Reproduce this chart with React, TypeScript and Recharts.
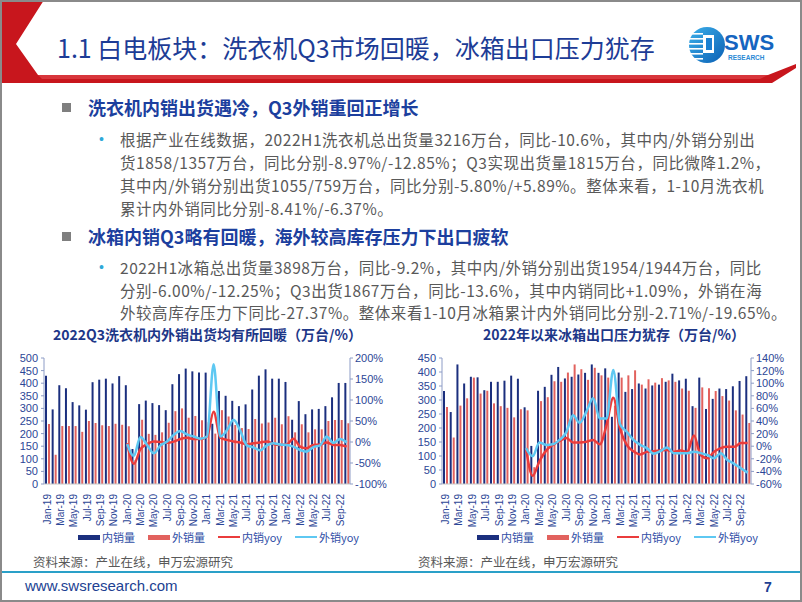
import React from "react";
import { ComposedChart, Bar, Line, XAxis, YAxis } from "recharts";

const months = [
  "Jan-19", "Feb-19", "Mar-19", "Apr-19", "May-19", "Jun-19", "Jul-19", "Aug-19", "Sep-19", "Oct-19", "Nov-19", "Dec-19",
  "Jan-20", "Feb-20", "Mar-20", "Apr-20", "May-20", "Jun-20", "Jul-20", "Aug-20", "Sep-20", "Oct-20", "Nov-20", "Dec-20",
  "Jan-21", "Feb-21", "Mar-21", "Apr-21", "May-21", "Jun-21", "Jul-21", "Aug-21", "Sep-21", "Oct-21", "Nov-21", "Dec-21",
  "Jan-22", "Feb-22", "Mar-22", "Apr-22", "May-22", "Jun-22", "Jul-22", "Aug-22", "Sep-22", "Oct-22",
];

// 洗衣机 (万台)
const washerDomestic = [
  430, 296, 392, 380, 325, 312, 295, 404, 414, 418, 399, 428,
  392, 139, 317, 331, 321, 313, 293, 396, 436, 458, 447, 442,
  442, 239, 369, 350, 330, 309, 316, 375, 430, 455, 418, 418,
  405, 255, 329, 277, 296, 298, 309, 344, 401, 401,
];
const washerExport = [
  238, 116, 230, 230, 230, 207, 250, 242, 233, 230, 239, 235,
  229, 95, 255, 199, 195, 205, 243, 289, 300, 263, 270, 253,
  245, 200, 293, 268, 234, 222, 218, 258, 240, 244, 263, 237,
  269, 205, 237, 205, 217, 217, 250, 254, 254, 241,
];
// yoy (%), from Jan-20
const washerDomesticYoy = [
  -3, -52, -17, -5, 1, 0, -2, 1, 7, 10, 7, 7,
  13, 72, 10, 5, 1, -1, -6, -3, -1, 1, -5, -7,
  -6, 8, -11, -15, -7, -6, -1, -7, -7, -11,
];
const washerExportYoy = [
  -5, -33, 12, -7, -27, -8, 1, 17, 26, 18, 13, 8,
  13, 185, 13, 28, 53, 27, -8, -13, -20, -8, -3, -6,
  -7, -11, -19, -23, -12, -8, 13, -2, 7, -1,
];

// 冰箱 (万台)
const fridgeDomestic = [
  332, 257, 427, 359, 383, 381, 335, 365, 365, 369, 387, 376,
  274, 136, 333, 347, 390, 418, 377, 383, 391, 397, 427, 397,
  413, 240, 398, 329, 339, 359, 341, 352, 355, 365, 394, 370,
  376, 278, 380, 268, 304, 341, 339, 349, 368, 385,
];
const fridgeExport = [
  275, 166, 280, 306, 380, 323, 333, 288, 278, 272, 238, 267,
  263, 60, 296, 310, 367, 365, 398, 427, 410, 372, 415, 388,
  380, 280, 380, 388, 406, 355, 374, 362, 378, 370, 365, 341,
  333, 272, 345, 342, 332, 314, 298, 263, 248, 218,
];
const fridgeDomesticYoy = [
  -3, -47, -24, -7, 2, 8, 13, 6, 6, 7, 10, 3,
  34, 77, 28, 2, -8, -13, -9, -8, -7, -6, -9, -7,
  -9, 17, -14, -19, -9, -3, -1, -1, 5, 5,
];
const fridgeExportYoy = [
  -3, -16, 6, 2, 3, 10, 22, 49, 37, 55, 76, 44,
  44, 121, 35, 23, 10, 2, -3, -12, -8, -2, -11, -11,
  -11, -9, -11, -14, -19, -11, -22, -28, -35, -42,
];

const washerLeftTicks = [0, 50, 100, 150, 200, 250, 300, 350, 400, 450, 500];
const washerRightTicks = [-100, -50, 0, 50, 100, 150, 200];
const fridgeLeftTicks = [0, 50, 100, 150, 200, 250, 300, 350, 400, 450];
const fridgeRightTicks = [-60, -40, -20, 0, 20, 40, 60, 80, 100, 120, 140];

const YOY_START = months.indexOf("Jan-20");

const buildRows = (dom: number[], exp: number[], domYoy: number[], expYoy: number[]) =>
  months.map((m, i) => ({
    month: m,
    domestic: dom[i],
    export: exp[i],
    domesticYoy: i >= YOY_START ? domYoy[i - YOY_START] : null,
    exportYoy: i >= YOY_START ? expYoy[i - YOY_START] : null,
  }));

const NAVY = "#1b2f7e";
const BAR_RED = "#e2625e";
const LINE_RED = "#ea3c3c";
const LINE_CYAN = "#5ec8f2";
const AXIS_TEXT = "#2c4696";
const AXIS_LINE = "#8d9cc6";
const CJK = '"Noto Sans CJK SC", "Noto Sans", sans-serif';
const LATIN = '"Liberation Sans", Arial, sans-serif';

function MonthTick({ x, y, payload }: { x?: number; y?: number; payload?: { value: string } }) {
  return (
    <text
      x={x}
      y={(y ?? 0) + 2}
      transform={`rotate(-90, ${x}, ${(y ?? 0) + 2})`}
      textAnchor="end"
      dominantBaseline="central"
      fontSize={10}
      fontFamily={LATIN}
      fill={AXIS_TEXT}
    >
      {payload?.value}
    </text>
  );
}

interface PanelProps {
  rows: ReturnType<typeof buildRows>;
  width: number;
  leftWidth: number;
  rightWidth: number;
  leftMax: number;
  leftTicks: number[];
  rightDomain: [number, number];
  rightTicks: number[];
}

function Panel({ rows, width, leftWidth, rightWidth, leftMax, leftTicks, rightDomain, rightTicks }: PanelProps) {
  const tickStyle = { fill: AXIS_TEXT, fontSize: 11, fontFamily: LATIN };
  return (
    <ComposedChart
      width={width}
      height={200}
      data={rows}
      margin={{ top: 18, right: 0, bottom: 0, left: 0 }}
      barSize={2}
      barGap={1}
    >
      <XAxis
        dataKey="month"
        interval={1}
        height={56}
        tickLine={false}
        axisLine={{ stroke: "#c8c8c8" }}
        tick={<MonthTick />}
      />
      <YAxis
        yAxisId="left"
        width={leftWidth}
        domain={[0, leftMax]}
        ticks={leftTicks}
        interval={0}
        tickSize={3}
        tickMargin={3}
        tickLine={{ stroke: AXIS_LINE }}
        axisLine={{ stroke: AXIS_LINE }}
        tick={tickStyle}
      />
      <YAxis
        yAxisId="right"
        orientation="right"
        width={rightWidth}
        domain={rightDomain}
        ticks={rightTicks}
        interval={0}
        tickSize={3}
        tickMargin={2}
        tickLine={{ stroke: AXIS_LINE }}
        axisLine={{ stroke: AXIS_LINE }}
        tick={tickStyle}
        tickFormatter={(v: number) => `${v}%`}
      />
      <Bar yAxisId="left" dataKey="domestic" fill={NAVY} isAnimationActive={false} />
      <Bar yAxisId="left" dataKey="export" fill={BAR_RED} isAnimationActive={false} />
      <Line
        yAxisId="right"
        type="monotone"
        dataKey="domesticYoy"
        stroke={LINE_RED}
        strokeWidth={2.5}
        dot={false}
        isAnimationActive={false}
      />
      <Line
        yAxisId="right"
        type="monotone"
        dataKey="exportYoy"
        stroke={LINE_CYAN}
        strokeWidth={2.5}
        dot={false}
        isAnimationActive={false}
      />
    </ComposedChart>
  );
}

function Legend({ left }: { left: number }) {
  const items = [
    { label: "内销量", color: NAVY, h: 5 },
    { label: "外销量", color: BAR_RED, h: 5 },
    { label: "内销yoy", color: LINE_RED, h: 2 },
    { label: "外销yoy", color: LINE_CYAN, h: 2 },
  ];
  return (
    <div
      style={{
        position: "absolute",
        left,
        top: 527,
        height: 16,
        display: "flex",
        alignItems: "center",
        gap: 13,
        fontFamily: CJK,
        fontSize: 11,
        color: "#2f4ea6",
      }}
    >
      {items.map((it) => (
        <div key={it.label} style={{ display: "flex", alignItems: "center", gap: 2 }}>
          <span style={{ display: "inline-block", width: 22, height: it.h, background: it.color }} />
          <span>{it.label}</span>
        </div>
      ))}
    </div>
  );
}

const abs = (left: number, top: number, extra: React.CSSProperties = {}): React.CSSProperties => ({
  position: "absolute",
  left,
  top,
  whiteSpace: "nowrap",
  ...extra,
});

const body1 = [
  "根据产业在线数据，2022H1洗衣机总出货量3216万台，同比-10.6%，其中内/外销分别出",
  "货1858/1357万台，同比分别-8.97%/-12.85%；Q3实现出货量1815万台，同比微降1.2%，",
  "其中内/外销分别出货1055/759万台，同比分别-5.80%/+5.89%。整体来看，1-10月洗衣机",
  "累计内外销同比分别-8.41%/-6.37%。",
];
const body2 = [
  "2022H1冰箱总出货量3898万台，同比-9.2%，其中内/外销分别出货1954/1944万台，同比",
  "分别-6.00%/-12.25%；Q3出货1867万台，同比-13.6%，其中内销同比+1.09%，外销在海",
  "外较高库存压力下同比-27.37%。整体来看1-10月冰箱累计内外销同比分别-2.71%/-19.65%。",
];

export default function App() {
  const washerRows = buildRows(washerDomestic, washerExport, washerDomesticYoy, washerExportYoy);
  const fridgeRows = buildRows(fridgeDomestic, fridgeExport, fridgeDomesticYoy, fridgeExportYoy);
  const bodyStyle: React.CSSProperties = {
    fontFamily: CJK,
    fontSize: 15.5,
    letterSpacing: 0.55,
    color: "#595959",
    lineHeight: "18px",
  };
  const headStyle: React.CSSProperties = { fontFamily: CJK, fontSize: 18, fontWeight: 700, color: "#1c3f9e", lineHeight: "22px" };
  const chartTitle: React.CSSProperties = { fontFamily: CJK, fontSize: 14, fontWeight: 700, color: "#1d3788", lineHeight: "18px" };
  return (
    <div
      style={{
        position: "absolute",
        left: 0,
        top: 0,
        width: 802,
        height: 602,
        background: "#fff",
        overflow: "hidden",
        boxSizing: "border-box",
        border: "2px solid #8a8a8a",
      }}
    >
      <svg width={802} height={90} style={{ position: "absolute", left: -2, top: -2 }}>
        <polygon points="0,0 44,0 16,44 38,75 768,75 796,64 796,68 772,83 0,83" fill="#c8161d" />
        <polygon points="38,75 768,75 760,79 42,79" fill="#d8363c" />
        {/* logo */}
        <defs>
          <linearGradient id="logoGrad" x1="0" y1="0" x2="1" y2="1">
            <stop offset="0%" stopColor="#3db0ea" />
            <stop offset="100%" stopColor="#0a5fb4" />
          </linearGradient>
        </defs>
        <circle cx={707} cy={45} r={18} fill="url(#logoGrad)" />
        {[33, 38, 43, 48, 53, 58].map((yy) => (
          <rect key={yy} x={689} y={yy} width={14} height={1.6} fill="#fff" />
        ))}
        <rect x={703} y={35} width={11} height={18} fill="#fff" />
        <rect x={706} y={38} width={6} height={12} fill="#1a7fd0" />
        <text x={724} y={50} fontFamily={LATIN} fontWeight={700} fontSize={22} fill="#1565c0">
          SWS
        </text>
        <text x={728} y={60} fontFamily={LATIN} fontWeight={700} fontSize={6.5} fill="#2a8ad6">
          RESEARCH
        </text>
      </svg>

      <div style={abs(55, 29, { fontFamily: CJK, fontSize: 25, color: "#1d3c96", lineHeight: "32px" })}>
        1.1 白电板块：洗衣机Q3市场回暖，冰箱出口压力犹存
      </div>

      <div style={abs(60, 101, { width: 9, height: 9, background: "#7f7f7f" })} />
      <div style={abs(86, 94, headStyle)}>洗衣机内销出货遇冷，Q3外销重回正增长</div>
      <div style={abs(97, 128, { color: "#2ea8d8", fontSize: 14, fontFamily: LATIN, lineHeight: "18px" })}>•</div>
      {body1.map((line, i) => (
        <div key={i} style={abs(118, 128 + i * 23, bodyStyle)}>
          {line}
        </div>
      ))}

      <div style={abs(60, 230, { width: 9, height: 9, background: "#7f7f7f" })} />
      <div style={abs(86, 223, headStyle)}>冰箱内销Q3略有回暖，海外较高库存压力下出口疲软</div>
      <div style={abs(97, 256, { color: "#2ea8d8", fontSize: 14, fontFamily: LATIN, lineHeight: "18px" })}>•</div>
      {body2.map((line, i) => (
        <div key={i} style={abs(118, 256 + i * 22.5, bodyStyle)}>
          {line}
        </div>
      ))}

      <div style={abs(51, 323, chartTitle)}>2022Q3洗衣机内外销出货均有所回暖（万台/%）</div>
      <div style={abs(481, 323, chartTitle)}>2022年以来冰箱出口压力犹存（万台/%）</div>

      <div style={abs(-2, 338)}>
        <Panel
          rows={washerRows}
          width={400}
          leftWidth={44}
          rightWidth={50}
          leftMax={500}
          leftTicks={washerLeftTicks}
          rightDomain={[-100, 200]}
          rightTicks={washerRightTicks}
        />
      </div>
      <div style={abs(398, 338)}>
        <Panel
          rows={fridgeRows}
          width={402}
          leftWidth={42}
          rightWidth={51}
          leftMax={450}
          leftTicks={fridgeLeftTicks}
          rightDomain={[-60, 140]}
          rightTicks={fridgeRightTicks}
        />
      </div>

      <Legend left={76} />
      <Legend left={475} />

      <div style={abs(31, 551, { fontFamily: CJK, fontSize: 12.5, color: "#595959", lineHeight: "18px" })}>
        资料来源：产业在线，申万宏源研究
      </div>
      <div style={abs(416, 551, { fontFamily: CJK, fontSize: 12.5, color: "#595959", lineHeight: "18px" })}>
        资料来源：产业在线，申万宏源研究
      </div>

      <div style={abs(-2, 569, { width: 806, height: 2, background: "#2aa0c8" })} />
      <div style={abs(23, 574, { fontFamily: LATIN, fontSize: 15, color: "#213f92", lineHeight: "20px" })}>
        www.swsresearch.com
      </div>
      <div style={abs(762, 575, { fontFamily: LATIN, fontSize: 14, fontWeight: 700, color: "#213f92", lineHeight: "20px" })}>
        7
      </div>
    </div>
  );
}
